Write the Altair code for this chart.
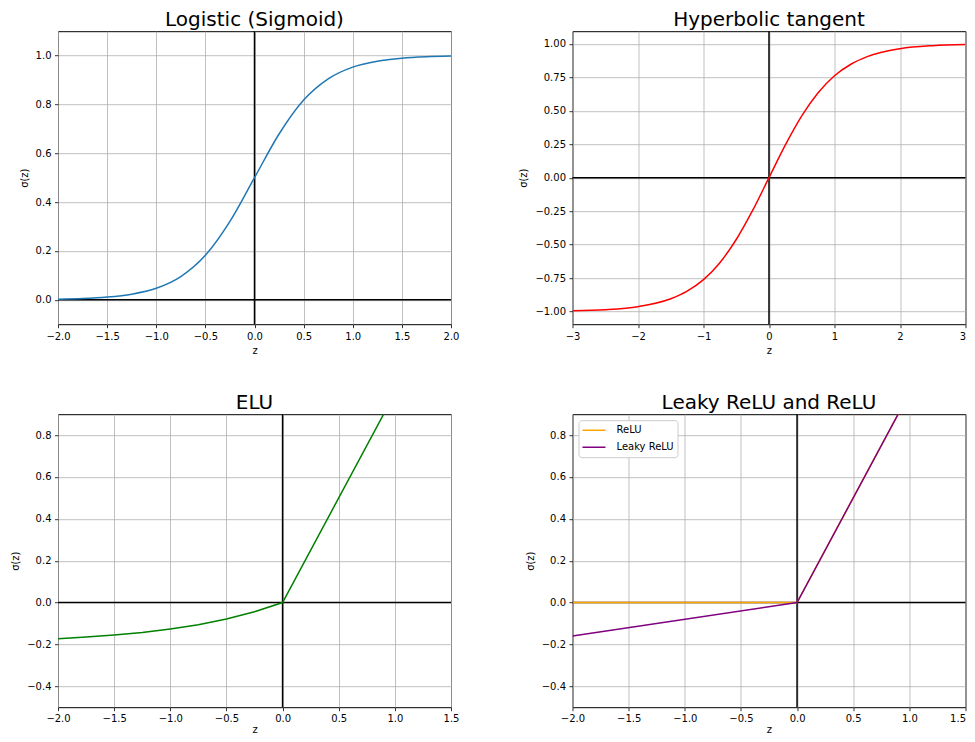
import altair as alt
import pandas as pd

FONT = "DejaVu Sans"

# ---- data ----
sig_z = [-2.0, -1.75, -1.5, -1.25, -1.0, -0.75, -0.5, -0.25, 0.0, 0.25, 0.5, 0.75, 1.0, 1.25, 1.5, 1.75, 2.0]
sig_v = [0.0025, 0.005, 0.011, 0.023, 0.047, 0.095, 0.182, 0.321, 0.5, 0.679, 0.818, 0.905, 0.953, 0.977, 0.989, 0.995, 0.998]

tanh_z = [-3.0, -2.5, -2.0, -1.5, -1.25, -1.0, -0.75, -0.5, -0.25, 0.0, 0.25, 0.5, 0.75, 1.0, 1.25, 1.5, 2.0, 2.5, 3.0]
tanh_v = [-0.995, -0.987, -0.964, -0.905, -0.848, -0.762, -0.635, -0.462, -0.245, 0.0, 0.245, 0.462, 0.635, 0.762, 0.848, 0.905, 0.964, 0.987, 0.995]

elu_z = [-2.0, -1.75, -1.5, -1.25, -1.0, -0.75, -0.5, -0.25, 0.0, 1.5]
elu_v = [-0.173, -0.165, -0.155, -0.143, -0.126, -0.106, -0.079, -0.044, 0.0, 1.5]

relu_z = [-2.0, 0.0, 1.5]
relu_v = [0.0, 0.0, 1.5]

leaky_z = [-2.0, 0.0, 1.5]
leaky_v = [-0.16, 0.0, 1.5]

series_names = ["ReLU", "Leaky ReLU"]
series_colors = ["#ffa500", "#800080"]

sig_xticks = [-2.0, -1.5, -1.0, -0.5, 0.0, 0.5, 1.0, 1.5, 2.0]
sig_yticks = [0.0, 0.2, 0.4, 0.6, 0.8, 1.0]
tanh_xticks = [-3, -2, -1, 0, 1, 2, 3]
tanh_yticks = [-1.0, -0.75, -0.5, -0.25, 0.0, 0.25, 0.5, 0.75, 1.0]
low_xticks = [-2.0, -1.5, -1.0, -0.5, 0.0, 0.5, 1.0, 1.5]
low_yticks = [-0.4, -0.2, 0.0, 0.2, 0.4, 0.6, 0.8]

W, H = 393, 293


def lbl(fmt):
    return "replace(format(datum.value, '" + fmt + "'), '-', '\u2212')"


def panel(title, xdom, ydom, xticks, yticks, xfmt, yfmt, lines, bottom_row, right_col):
    xaxis_kw = dict(labelPadding=2.5, titlePadding=1) if bottom_row else dict(labelPadding=3.5, titlePadding=4)
    if right_col:
        xaxis_kw["labelAlign"] = {"condition": {"test": "datum.value == %s" % xdom[1], "value": "right"},
                                  "value": "center"}
    xenc = dict(scale=alt.Scale(domain=xdom, nice=False, zero=False),
                axis=alt.Axis(values=xticks, title="z", labelExpr=lbl(xfmt), **xaxis_kw))
    yenc = dict(scale=alt.Scale(domain=ydom, nice=False, zero=False),
                axis=alt.Axis(values=yticks, title="\u03c3(z)", labelExpr=lbl(yfmt)))
    hrule = alt.Chart(pd.DataFrame({"v": [0.0]})).mark_rule(
        color="black", strokeWidth=1.5).encode(y=alt.Y("v:Q", **yenc))
    vrule = alt.Chart(pd.DataFrame({"z": [0.0]})).mark_rule(
        color="black", strokeWidth=1.5).encode(x=alt.X("z:Q", **xenc))
    layers = [hrule, vrule]
    for df, mark_kw, color in lines:
        enc = dict(x=alt.X("z:Q", **xenc), y=alt.Y("v:Q", **yenc))
        if color is not None:
            enc["color"] = color
        layers.append(alt.Chart(df).mark_line(clip=True, strokeWidth=1.5, **mark_kw).encode(**enc))
    return alt.layer(*layers).properties(
        width=W, height=H,
        title=alt.TitleParams(title, fontSize=20, fontWeight="normal", font=FONT,
                              anchor="middle", offset=0, color="black"))


sig_df = pd.DataFrame({"z": sig_z, "v": sig_v})
tanh_df = pd.DataFrame({"z": tanh_z, "v": tanh_v})
elu_df = pd.DataFrame({"z": elu_z, "v": elu_v})
relu_df = pd.DataFrame({"z": relu_z, "v": relu_v, "s": series_names[0]})
leaky_df = pd.DataFrame({"z": leaky_z, "v": leaky_v, "s": series_names[1]})

cscale = alt.Scale(domain=series_names, range=series_colors)
legend = alt.Legend(title=None, orient="top-left", offset=6, fillColor="white",
                    strokeColor="#cccccc", cornerRadius=3, padding=3,
                    symbolType="stroke", symbolSize=529, symbolStrokeWidth=1.5,
                    clipHeight=14, rowPadding=3,
                    labelFontSize=10, labelFont=FONT, labelColor="black",
                    labelOffset=10)
col = alt.Color("s:N", scale=cscale, legend=legend, sort=series_names)

p1 = panel("Logistic (Sigmoid)", [-2, 2], [-0.1, 1.1], sig_xticks, sig_yticks, ".1f", ".1f",
           [(sig_df, dict(color="#1f77b4", interpolate="monotone"), None)], False, False)
p2 = panel("Hyperbolic tangent", [-3, 3], [-1.095, 1.095], tanh_xticks, tanh_yticks, "d", ".2f",
           [(tanh_df, dict(color="red", interpolate="monotone"), None)], False, True)
p3 = panel("ELU", [-2, 1.5], [-0.5, 0.9], low_xticks, low_yticks, ".1f", ".1f",
           [(elu_df, dict(color="green"), None)], True, False)
p4 = panel("Leaky ReLU and ReLU", [-2, 1.5], [-0.5, 0.9], low_xticks, low_yticks, ".1f", ".1f",
           [(relu_df, dict(), col), (leaky_df, dict(), col)], True, True)

chart = alt.concat(p1, p2, p3, p4, columns=2, spacing={"row": 36, "column": 57.5}).resolve_legend(
    color="independent"
).resolve_scale(color="independent").properties(
    padding={"top": 1.2, "left": 2, "right": 0, "bottom": -1}
).configure(
    font=FONT, background="white"
).configure_view(stroke="black", strokeWidth=1).configure_axis(
    grid=True, gridColor="#b0b0b0", gridWidth=0.8, domain=False,
    tickColor="black", tickSize=3.5, tickWidth=0.8,
    labelFont=FONT, labelFontSize=10, labelColor="black", labelPadding=3.5,
    labelFlush=False, labelOverlap=False,
    titleFont=FONT, titleFontSize=10, titleFontWeight="normal", titleColor="black",
).configure_axisY(titlePadding=6)

chart.save("out.html", embed_options={"renderer": "svg", "actions": False})
